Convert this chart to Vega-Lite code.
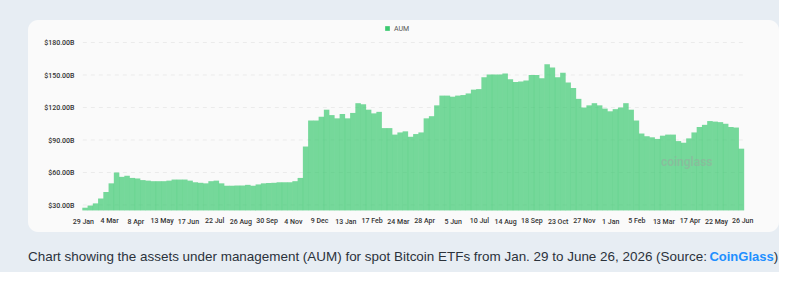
{
  "$schema": "https://vega.github.io/schema/vega-lite/v6.json",
  "background": "#e7edf3",
  "padding": {"left": 27, "top": 20, "right": 0, "bottom": 0},
  "config": {"view": {"stroke": null}, "font": "Roboto", "axis": {"labelOverlap": false}},
  "datasets": {
    "aum": [
      {"date": "2024-02-01", "aum": 27.5}, {"date": "2024-02-08", "aum": 29.5}, {"date": "2024-02-15", "aum": 31.5}, {"date": "2024-02-22", "aum": 36},
      {"date": "2024-02-29", "aum": 42}, {"date": "2024-03-07", "aum": 50}, {"date": "2024-03-14", "aum": 60}, {"date": "2024-03-21", "aum": 56},
      {"date": "2024-03-28", "aum": 57}, {"date": "2024-04-04", "aum": 55}, {"date": "2024-04-11", "aum": 54.5}, {"date": "2024-04-18", "aum": 53},
      {"date": "2024-04-25", "aum": 52.5}, {"date": "2024-05-02", "aum": 52}, {"date": "2024-05-09", "aum": 52}, {"date": "2024-05-16", "aum": 52},
      {"date": "2024-05-23", "aum": 52.5}, {"date": "2024-05-30", "aum": 53.5}, {"date": "2024-06-06", "aum": 53.5}, {"date": "2024-06-13", "aum": 53.5},
      {"date": "2024-06-20", "aum": 52.5}, {"date": "2024-06-27", "aum": 51}, {"date": "2024-07-04", "aum": 50.5}, {"date": "2024-07-11", "aum": 50},
      {"date": "2024-07-18", "aum": 52}, {"date": "2024-07-25", "aum": 52.5}, {"date": "2024-08-01", "aum": 50}, {"date": "2024-08-08", "aum": 47.8},
      {"date": "2024-08-15", "aum": 47.8}, {"date": "2024-08-22", "aum": 48}, {"date": "2024-08-29", "aum": 48}, {"date": "2024-09-05", "aum": 48.6},
      {"date": "2024-09-12", "aum": 47.8}, {"date": "2024-09-19", "aum": 49}, {"date": "2024-09-26", "aum": 50}, {"date": "2024-10-03", "aum": 50.3},
      {"date": "2024-10-10", "aum": 50.5}, {"date": "2024-10-17", "aum": 51}, {"date": "2024-10-24", "aum": 51}, {"date": "2024-10-31", "aum": 51},
      {"date": "2024-11-07", "aum": 52}, {"date": "2024-11-14", "aum": 55}, {"date": "2024-11-21", "aum": 84}, {"date": "2024-11-28", "aum": 108},
      {"date": "2024-12-05", "aum": 108}, {"date": "2024-12-12", "aum": 111.5}, {"date": "2024-12-19", "aum": 118}, {"date": "2024-12-26", "aum": 113},
      {"date": "2025-01-02", "aum": 110}, {"date": "2025-01-09", "aum": 114}, {"date": "2025-01-16", "aum": 110}, {"date": "2025-01-23", "aum": 115},
      {"date": "2025-01-30", "aum": 124}, {"date": "2025-02-06", "aum": 123}, {"date": "2025-02-13", "aum": 118}, {"date": "2025-02-20", "aum": 114.6},
      {"date": "2025-02-27", "aum": 116}, {"date": "2025-03-06", "aum": 101}, {"date": "2025-03-13", "aum": 101}, {"date": "2025-03-20", "aum": 95},
      {"date": "2025-03-27", "aum": 97}, {"date": "2025-04-03", "aum": 98}, {"date": "2025-04-10", "aum": 93}, {"date": "2025-04-17", "aum": 95.5},
      {"date": "2025-04-24", "aum": 97}, {"date": "2025-05-01", "aum": 110}, {"date": "2025-05-08", "aum": 112}, {"date": "2025-05-15", "aum": 122},
      {"date": "2025-05-22", "aum": 131}, {"date": "2025-05-29", "aum": 131}, {"date": "2025-06-05", "aum": 130}, {"date": "2025-06-12", "aum": 131},
      {"date": "2025-06-19", "aum": 131.5}, {"date": "2025-06-26", "aum": 133}, {"date": "2025-07-03", "aum": 136.5}, {"date": "2025-07-10", "aum": 137},
      {"date": "2025-07-17", "aum": 148}, {"date": "2025-07-24", "aum": 150.5}, {"date": "2025-07-31", "aum": 150.5}, {"date": "2025-08-07", "aum": 150.5},
      {"date": "2025-08-14", "aum": 151.5}, {"date": "2025-08-21", "aum": 146}, {"date": "2025-08-28", "aum": 143.5}, {"date": "2025-09-04", "aum": 144},
      {"date": "2025-09-11", "aum": 145}, {"date": "2025-09-18", "aum": 150}, {"date": "2025-09-25", "aum": 150}, {"date": "2025-10-02", "aum": 147},
      {"date": "2025-10-09", "aum": 160}, {"date": "2025-10-16", "aum": 157}, {"date": "2025-10-23", "aum": 148}, {"date": "2025-10-30", "aum": 152},
      {"date": "2025-11-06", "aum": 143}, {"date": "2025-11-13", "aum": 138}, {"date": "2025-11-20", "aum": 128}, {"date": "2025-11-27", "aum": 120},
      {"date": "2025-12-04", "aum": 122}, {"date": "2025-12-11", "aum": 124}, {"date": "2025-12-18", "aum": 122}, {"date": "2025-12-25", "aum": 119},
      {"date": "2026-01-01", "aum": 116.5}, {"date": "2026-01-08", "aum": 118.5}, {"date": "2026-01-15", "aum": 120}, {"date": "2026-01-22", "aum": 124},
      {"date": "2026-01-29", "aum": 118}, {"date": "2026-02-05", "aum": 108}, {"date": "2026-02-12", "aum": 96}, {"date": "2026-02-19", "aum": 93.5},
      {"date": "2026-02-26", "aum": 92.5}, {"date": "2026-03-05", "aum": 91}, {"date": "2026-03-12", "aum": 94}, {"date": "2026-03-19", "aum": 95},
      {"date": "2026-03-26", "aum": 95}, {"date": "2026-04-02", "aum": 89}, {"date": "2026-04-09", "aum": 87.5}, {"date": "2026-04-16", "aum": 91.5},
      {"date": "2026-04-23", "aum": 97}, {"date": "2026-04-30", "aum": 102}, {"date": "2026-05-07", "aum": 104}, {"date": "2026-05-14", "aum": 107.5},
      {"date": "2026-05-21", "aum": 107}, {"date": "2026-05-28", "aum": 106.5}, {"date": "2026-06-04", "aum": 105}, {"date": "2026-06-11", "aum": 102},
      {"date": "2026-06-18", "aum": 101.5}, {"date": "2026-06-25", "aum": 82}
    ],
    "grid": [{"v": 30}, {"v": 60}, {"v": 90}, {"v": 120}, {"v": 150}, {"v": 180}],
    "mark": [{"date": "2026-04-13", "v": 70, "t": "coinglass"}],
    "cap1": [{"t": "Chart showing the assets under management (AUM) for spot Bitcoin ETFs from Jan. 29 to June 26, 2026 (Source:"}],
    "cap2": [{"t": "CoinGlass"}],
    "cap3": [{"t": ")"}]
  },
  "spacing": 10,
  "vconcat": [
    {
      "width": 751,
      "height": 212,
      "view": {"fill": "#fafafa", "cornerRadius": 10, "stroke": null},
      "resolve": {"axis": {"x": "independent"}},
      "layer": [
        {
          "data": {"name": "grid"},
          "mark": {"type": "rule", "color": "#ebebeb", "strokeDash": [4, 4], "strokeWidth": 1},
          "encoding": {
            "y": {
              "field": "v", "type": "quantitative",
              "scale": {"domain": [5.08, 200.8], "nice": false, "zero": false},
              "axis": {
                "title": null, "grid": false, "ticks": false, "domain": false,
                "offset": -46, "labelPadding": 0,
                "values": [30, 60, 90, 120, 150, 180],
                "labelExpr": "'$' + format(datum.value, '.2f') + 'B'",
                "labelFont": "Roboto", "labelFontSize": 7, "labelColor": "#333", "labelFontWeight": 500
              }
            },
            "x": {
              "datum": {"year": 2024, "month": 1, "date": 29, "utc": true}, "type": "temporal",
              "scale": {"type": "utc", "domain": [{"year": 2023, "month": 11, "date": 23, "hours": 14, "utc": true}, {"year": 2026, "month": 8, "date": 7, "hours": 10, "utc": true}]},
              "axis": {
                "orient": "top", "title": null, "grid": false, "ticks": false, "domain": false,
                "offset": -204, "labelPadding": 0, "labelOverlap": false, "labelFlush": false, "labelBound": false,
                "format": "%-d %b", "labelFont": "Roboto", "labelFontSize": 7, "labelColor": "#333", "labelFontWeight": 500,
                "values": [
                  {"year": 2024, "month": 1, "date": 29, "utc": true}, {"year": 2024, "month": 4, "date": 8, "utc": true},
                  {"year": 2024, "month": 6, "date": 17, "utc": true}, {"year": 2024, "month": 8, "date": 26, "utc": true},
                  {"year": 2024, "month": 11, "date": 4, "utc": true}, {"year": 2025, "month": 1, "date": 13, "utc": true},
                  {"year": 2025, "month": 3, "date": 24, "utc": true}, {"year": 2025, "month": 6, "date": 5, "utc": true},
                  {"year": 2025, "month": 8, "date": 14, "utc": true}, {"year": 2025, "month": 10, "date": 23, "utc": true},
                  {"year": 2026, "month": 1, "date": 1, "utc": true}, {"year": 2026, "month": 3, "date": 13, "utc": true},
                  {"year": 2026, "month": 5, "date": 22, "utc": true}
                ]
              }
            },
            "x2": {"datum": {"year": 2026, "month": 6, "date": 27, "utc": true}}
          }
        },
        {
          "data": {"name": "aum"},
          "mark": {"type": "bar", "width": 5.5, "opacity": 0.7},
          "encoding": {
            "x": {
              "field": "date", "type": "temporal",
              "axis": {
                "orient": "bottom", "title": null, "grid": false, "ticks": false, "domain": false,
                "offset": -16, "labelPadding": 0, "labelOverlap": false, "labelFlush": false, "labelBound": false,
                "format": "%-d %b", "labelFont": "Roboto", "labelFontSize": 7, "labelColor": "#333", "labelFontWeight": 500,
                "values": [
                  {"year": 2024, "month": 3, "date": 4, "utc": true}, {"year": 2024, "month": 5, "date": 13, "utc": true},
                  {"year": 2024, "month": 7, "date": 22, "utc": true}, {"year": 2024, "month": 9, "date": 30, "utc": true},
                  {"year": 2024, "month": 12, "date": 9, "utc": true}, {"year": 2025, "month": 2, "date": 17, "utc": true},
                  {"year": 2025, "month": 4, "date": 28, "utc": true}, {"year": 2025, "month": 7, "date": 10, "utc": true},
                  {"year": 2025, "month": 9, "date": 18, "utc": true}, {"year": 2025, "month": 11, "date": 27, "utc": true},
                  {"year": 2026, "month": 2, "date": 5, "utc": true}, {"year": 2026, "month": 4, "date": 17, "utc": true},
                  {"year": 2026, "month": 6, "date": 26, "utc": true}
                ]
              }
            },
            "y": {"field": "aum", "type": "quantitative"},
            "y2": {"datum": 25},
            "color": {
              "datum": "AUM", "type": "nominal",
              "scale": {"range": ["#3cc970"]},
              "legend": {
                "title": null, "orient": "none", "legendX": 356, "legendY": 5,
                "symbolType": "square", "symbolSize": 22, "symbolOpacity": 1, "symbolStrokeWidth": 0,
                "labelFont": "Roboto", "labelFontSize": 7, "labelColor": "#555", "labelOffset": 3
              }
            }
          }
        },
        {
          "data": {"name": "mark"},
          "mark": {"type": "text", "fontSize": 12, "fontWeight": 600, "color": "#a0a0a0", "opacity": 0.45},
          "encoding": {
            "x": {"field": "date", "type": "temporal", "axis": null},
            "y": {"field": "v", "type": "quantitative"},
            "text": {"field": "t"}
          }
        }
      ]
    },
    {
      "width": 751,
      "height": 30,
      "layer": [
        {
          "data": {"name": "cap1"},
          "mark": {"type": "text", "align": "right", "baseline": "middle", "font": "Liberation Sans", "fontSize": 13.45, "color": "#2b323b"},
          "encoding": {
            "text": {"field": "t"},
            "x": {"datum": 90.4, "type": "quantitative", "scale": {"domain": [0, 100]}, "axis": null}
          }
        },
        {
          "data": {"name": "cap2"},
          "mark": {"type": "text", "align": "left", "baseline": "middle", "font": "Liberation Sans", "fontSize": 13, "fontWeight": "bold", "color": "#1e8fff", "dx": 2.5},
          "encoding": {
            "text": {"field": "t"},
            "x": {"datum": 90.4, "type": "quantitative"}
          }
        },
        {
          "data": {"name": "cap3"},
          "mark": {"type": "text", "align": "left", "baseline": "middle", "font": "Liberation Sans", "fontSize": 13.45, "color": "#2b323b", "dx": 66.8},
          "encoding": {
            "text": {"field": "t"},
            "x": {"datum": 90.4, "type": "quantitative"}
          }
        }
      ]
    }
  ]
}
